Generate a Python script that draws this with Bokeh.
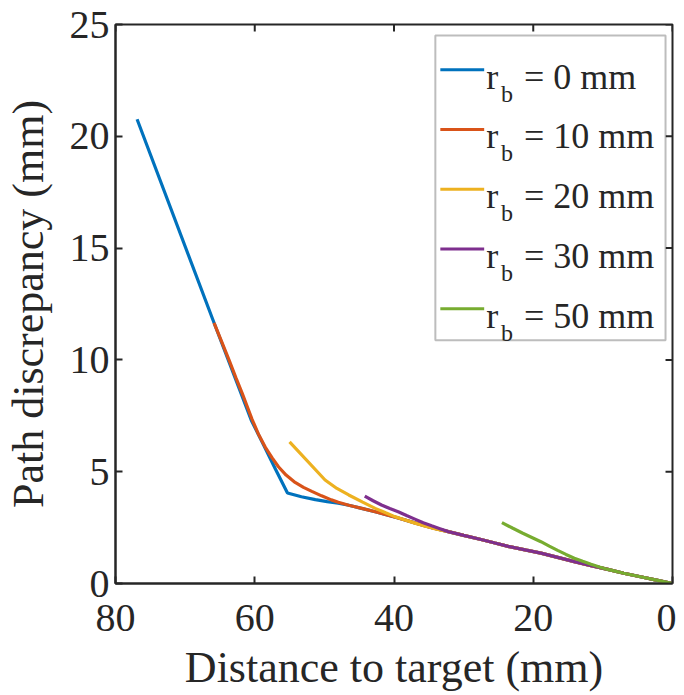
from bokeh.plotting import figure
from bokeh.models import Range1d, FixedTicker, Label, BoxAnnotation
from bokeh.embed import file_html
from bokeh.resources import INLINE

# ---- data ----
tail_x = [32.2, 30.0, 27.5, 25.5, 23.6, 21.0, 18.9, 16.5, 14.1, 11.7, 9.3, 7.0, 4.6, 2.3, 0.0]
tail_y = [2.32, 2.15, 1.97, 1.81, 1.66, 1.49, 1.36, 1.17, 0.98, 0.80, 0.63, 0.46, 0.30, 0.15, 0.0]

rb0_x = [76.9, 65.85, 60.5, 58.9, 57.0, 55.3, 53.3, 51.3, 49.6, 48.0, 46.5, 44.5, 42.7, 41.0,
         39.4, 37.0, 34.6] + tail_x
rb0_y = [20.76, 11.66, 7.3, 6.3, 5.1, 4.05, 3.88, 3.75, 3.66, 3.59, 3.5, 3.35, 3.21, 3.07,
         2.93, 2.71, 2.5] + tail_y

rb10_x = [65.85, 64.8, 63.7, 62.7, 61.8, 61.0, 60.4, 59.5, 58.5, 57.5, 56.6, 55.5, 54.2, 53.0,
          51.8, 50.4, 49.0, 48.0, 46.5, 44.5, 42.7, 41.0, 39.4, 37.0, 34.6] + tail_x
rb10_y = [11.66, 10.85, 10.0, 9.2, 8.5, 7.85, 7.35, 6.7, 6.1, 5.62, 5.22, 4.85, 4.52, 4.3,
          4.12, 3.92, 3.74, 3.63, 3.5, 3.35, 3.21, 3.07, 2.93, 2.71, 2.5] + tail_y

rb20_x = [55.0, 49.9, 48.2, 46.5, 44.5, 42.7, 41.2, 39.9, 38.4, 37.0, 35.8, 34.6, 33.4] + tail_x
rb20_y = [6.33, 4.63, 4.25, 3.96, 3.64, 3.36, 3.16, 2.99, 2.84, 2.7, 2.59, 2.49, 2.4] + tail_y

rb30_x = [44.2, 43.0, 41.8, 40.6, 39.4, 38.2, 37.0, 35.8, 34.6, 33.4] + tail_x
rb30_y = [3.91, 3.70, 3.51, 3.35, 3.21, 3.04, 2.88, 2.72, 2.58, 2.45] + tail_y

rb50_x = [24.5, 23.0, 21.5, 20.2, 18.9, 17.7, 16.5, 15.3, 14.1, 12.9, 11.7, 10.5, 9.3,
          7.0, 4.6, 2.3, 0.0]
rb50_y = [2.72, 2.48, 2.25, 2.06, 1.87, 1.67, 1.48, 1.30, 1.13, 0.99, 0.86, 0.74, 0.63,
          0.46, 0.30, 0.15, 0.0]

labels = ["0", "10", "20", "30", "50"]
colors = ["#0072BD", "#D95319", "#EDB120", "#7E2F8E", "#77AC30"]
series = [(rb0_x, rb0_y), (rb10_x, rb10_y), (rb20_x, rb20_y), (rb30_x, rb30_y), (rb50_x, rb50_y)]

x_ticks = [0, 20, 40, 60, 80]
y_ticks = [0, 5, 10, 15, 20, 25]

FONT = "Liberation Serif"
AX = "#262626"
X_MIN, X_MAX, Y_MIN, Y_MAX = 0, 80, 0, 25

p = figure(width=676, height=695, output_backend="svg", toolbar_location=None,
           x_range=Range1d(X_MAX, X_MIN), y_range=Range1d(Y_MIN, Y_MAX),
           min_border_left=113, min_border_right=4, min_border_top=24, min_border_bottom=112)
p.grid.visible = False
p.outline_line_color = AX
p.outline_line_width = 2
p.background_fill_color = "white"

for ax in [p.xaxis[0], p.yaxis[0]]:
    ax.axis_line_color = AX
    ax.axis_line_width = 2
    ax.major_tick_line_color = AX
    ax.major_tick_line_width = 2
    ax.major_tick_in = 7
    ax.major_tick_out = 0
    ax.minor_tick_line_color = None
    ax.major_label_text_font = FONT
    ax.major_label_text_font_size = "40px"
    ax.major_label_text_color = AX
    ax.axis_label_text_font = FONT
    ax.axis_label_text_font_size = "44px"
    ax.axis_label_text_font_style = "normal"
    ax.axis_label_text_color = AX

p.xaxis.ticker = FixedTicker(ticks=x_ticks)
p.yaxis.ticker = FixedTicker(ticks=y_ticks)
p.xaxis.axis_label = "Distance to target (mm)"
p.yaxis.axis_label = "Path discrepancy (mm)"
p.xaxis.major_label_standoff = 21
p.yaxis.major_label_standoff = 6
p.xaxis.axis_label_standoff = 9
p.yaxis.axis_label_standoff = 14

# box ticks on top and right edges (inward, like the bottom/left ones)
tick_dy = 7 * (Y_MAX - Y_MIN) / 559.5
tick_dx = 7 * (X_MAX - X_MIN) / 559.0
p.segment(x0=x_ticks, y0=[Y_MAX] * len(x_ticks), x1=x_ticks, y1=[Y_MAX - tick_dy] * len(x_ticks),
          line_color=AX, line_width=2)
p.segment(x0=[X_MIN] * len(y_ticks), y0=y_ticks, x1=[X_MIN + tick_dx] * len(y_ticks), y1=y_ticks,
          line_color=AX, line_width=2)

for (xs, ys), c in zip(series, colors):
    p.line(xs, ys, line_color=c, line_width=3.2)

# ---- manual legend (page pixel -> data helpers) ----
def X(px):
    return X_MAX - (px - 113) * (X_MAX - X_MIN) / 559.0

def Y(py):
    return (583.5 - py) * (Y_MAX - Y_MIN) / 559.5

p.add_layout(BoxAnnotation(left=X(434), right=X(665), top=Y(35), bottom=Y(340),
                           fill_color="white", fill_alpha=1.0,
                           line_color=AX, line_width=2, level="annotation"))
for i, (lab, c) in enumerate(zip(labels, colors)):
    ly = 69.3 + i * 59.8
    p.segment(x0=[X(439)], y0=[Y(ly)], x1=[X(483)], y1=[Y(ly)], line_color=c,
              line_width=3, level="overlay")
    p.add_layout(Label(x=X(485), y=Y(ly + 7), text="r", text_font=FONT,
                       text_font_size="36px", text_baseline="alphabetic",
                       text_align="left", text_color=AX, level="overlay"))
    p.add_layout(Label(x=X(500), y=Y(ly + 24), text="b", text_font=FONT,
                       text_font_size="24px", text_baseline="alphabetic",
                       text_align="left", text_color=AX, level="overlay"))
    p.add_layout(Label(x=X(523), y=Y(ly + 7), text="= " + lab + " mm", text_font=FONT,
                       text_font_size="36px", text_baseline="alphabetic",
                       text_align="left", text_color=AX, level="overlay"))

open("out.html", "w").write(file_html(p, INLINE))
